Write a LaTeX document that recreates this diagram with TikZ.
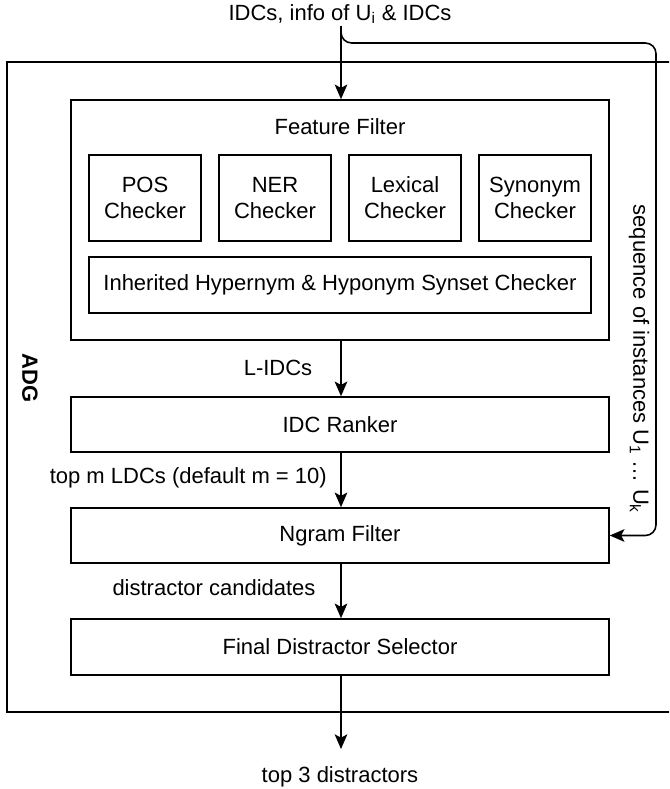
\documentclass[tikz,border=0pt]{standalone}
\usepackage{fontspec}
\setmainfont{Liberation Sans}
\usetikzlibrary{arrows.meta}
\begin{document}
\begin{tikzpicture}[x=0.75pt,y=-0.75pt,
  every node/.style={font=\fontsize{16.5}{19.5}\selectfont, inner sep=0pt},
  box/.style={draw, line width=1.2pt, rectangle, align=center},
  arr/.style={line width=1.2pt, -{Stealth[length=11pt,width=9.5pt,inset=2.5pt]}},
  lbl/.style={align=center}]
\clip (0,0) rectangle (669,789);
% outer ADG box
\node[box, minimum width=668*0.75pt, minimum height=650*0.75pt] (adg) at (341,387) {};
\node[rotate=-90, font=\fontsize{16.5}{19.5}\selectfont\bfseries] (adglbl) at (30,378) {ADG};
% feature filter
\node[box, minimum width=538*0.75pt, minimum height=240*0.75pt] (ff) at (340,220) {};
\node[lbl] (fft) at (340,127) {Feature Filter};
\node[box, minimum width=112*0.75pt, minimum height=86*0.75pt] (pos) at (145,198) {POS\\Checker};
\node[box, minimum width=112*0.75pt, minimum height=86*0.75pt] (ner) at (275,198) {NER\\Checker};
\node[box, minimum width=112*0.75pt, minimum height=86*0.75pt] (lex) at (405,198) {Lexical\\Checker};
\node[box, minimum width=112*0.75pt, minimum height=86*0.75pt] (syn) at (535,198) {Synonym\\Checker};
\node[box, minimum width=502*0.75pt, minimum height=56*0.75pt] (inh) at (340,285) {Inherited Hypernym \& Hyponym Synset Checker};
% pipeline
\node[box, minimum width=538*0.75pt, minimum height=55*0.75pt] (rank) at (340,424.5) {IDC Ranker};
\node[box, minimum width=538*0.75pt, minimum height=55*0.75pt] (ngram) at (340,535.5) {Ngram Filter};
\node[box, minimum width=538*0.75pt, minimum height=56*0.75pt] (final) at (340,647) {Final Distractor Selector};
% input / output texts
\node[lbl] (in) at (340,14) {IDCs, info of U\textsubscript{i} \& IDCs};
\node[lbl] (out) at (340,777) {top 3 distractors};
\coordinate (outend) at (341,749);
\coordinate (inend) at (341,26);
\coordinate (r1) at (656,43);
% edge labels
\node[lbl] (l1) at (278,368) {L-IDCs};
\node[lbl, anchor=east] (l2) at (327,478) {top m LDCs (default m = 10)};
\node[lbl] (l3) at (214,588) {distractor candidates};
\node[lbl, rotate=-90] (l4) at (639,359) {sequence of instances U\textsubscript{1} … U\textsubscript{k}};
% connectors
\draw[arr] (inend) -- (inend |- ff.north);
\draw[arr, rounded corners=8pt] (inend) |- (r1) |- (ngram.east);
\draw[arr] (inend |- ff.south) -- (inend |- rank.north);
\draw[arr] (inend |- rank.south) -- (inend |- ngram.north);
\draw[arr] (inend |- ngram.south) -- (inend |- final.north);
\draw[arr] (inend |- final.south) -- (outend);
\end{tikzpicture}
\end{document}
